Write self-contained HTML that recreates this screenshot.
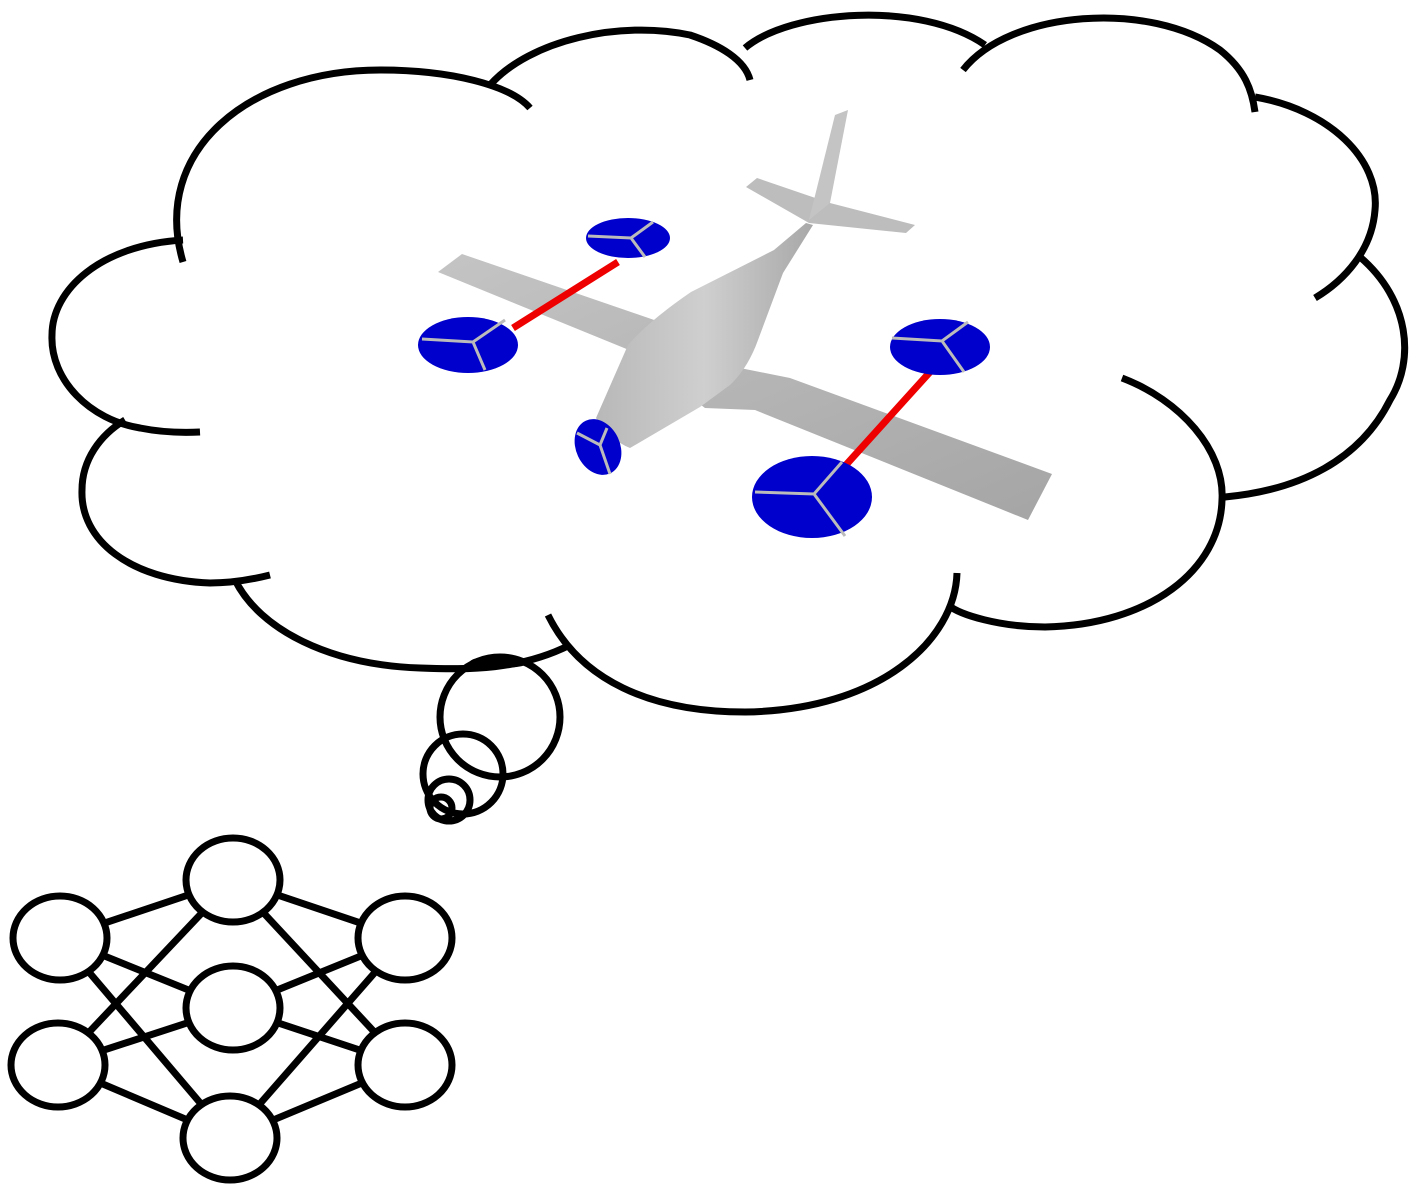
<!DOCTYPE html>
<html><head><meta charset="utf-8"><style>html,body{margin:0;padding:0;background:#fff}svg{display:block}</style></head>
<body>
<svg width="1411" height="1187" viewBox="0 0 1411 1187" xmlns="http://www.w3.org/2000/svg">
<defs>
<linearGradient id="g1" x1="0" y1="0" x2="1" y2="0"><stop offset="0" stop-color="#b8b8b8"/><stop offset="0.5" stop-color="#cfcfcf"/><stop offset="1" stop-color="#a8a8a8"/></linearGradient>
<linearGradient id="g2" x1="0" y1="0" x2="1" y2="1"><stop offset="0" stop-color="#c4c4c4"/><stop offset="1" stop-color="#a5a5a5"/></linearGradient>
</defs>
<g fill="none" stroke="#000" stroke-width="7" stroke-linecap="butt">
<path d="M183,262 C150,150 250,70 380,70 C450,70 510,85 530,108"/>
<path d="M490,85 C530,40 620,20 690,35 C720,45 745,60 750,80"/>
<path d="M745,48 C790,10 920,0 985,45"/>
<path d="M963,70 C1010,10 1150,0 1220,50 C1245,70 1252,90 1255,112"/>
<path d="M1255,97 C1330,110 1380,160 1375,210 C1372,250 1345,280 1315,298"/>
<path d="M1360,257 C1410,300 1415,360 1390,400 C1360,460 1300,490 1225,497"/>
<path d="M1122,378 C1180,400 1225,450 1222,500 C1220,570 1150,625 1045,627 C1000,627 960,615 948,605"/>
<path d="M957,573 C955,640 880,710 745,712 C650,712 580,680 548,615"/>
<path d="M570,645 C520,670 470,670 420,668 C330,665 260,630 235,580"/>
<path d="M270,575 C250,580 230,583 210,583 C130,580 80,540 82,490 C82,460 100,435 125,420"/>
<path d="M200,432 C180,433 160,432 140,428 C90,420 50,380 52,335 C52,290 100,245 183,240"/>
<circle cx="500" cy="717" r="60"/>
<circle cx="463" cy="774" r="40"/>
<circle cx="449" cy="800" r="21"/>
<circle cx="441" cy="808" r="11"/>
</g>
<ellipse cx="500" cy="662" rx="30" ry="6" fill="#000"/>
<!-- plane -->
<polygon points="438,272 462,254 660,322 740,368 790,378 1052,474 1028,520 755,410 705,408 629,350" fill="url(#g2)"/>
<polygon points="746,187 757,178 830,203 915,225 906,233 809,223" fill="#bdbdbd"/>
<path d="M596,418 L628,345 Q650,320 691,292 L774,250 L806,223 L813,225 L783,273 L758,340 Q748,368 730,385 L700,407 L630,448 Q610,440 596,418 Z" fill="url(#g1)"/>
<polygon points="835,115 848,110 830,203 809,220" fill="#c4c4c4"/>
<g stroke="#e00" stroke-width="7"><line x1="513" y1="328" x2="618" y2="262"/><line x1="930" y1="372" x2="845" y2="466"/></g>
<g fill="#0000cc">
<ellipse cx="628" cy="238" rx="42" ry="20"/>
<ellipse cx="468" cy="345" rx="50" ry="28"/>
<ellipse cx="940" cy="347" rx="50" ry="28"/>
<ellipse cx="812" cy="497" rx="60" ry="41"/>
<ellipse cx="598" cy="447" rx="22" ry="29" transform="rotate(-25 598 447)"/>
</g>
<g stroke="#bbb" stroke-width="3" fill="none">
<path d="M588,236 L631,238 L653,222 M631,238 L645,257"/>
<path d="M422,339 L473,342 L505,320 M473,342 L485,370"/>
<path d="M892,338 L942,341 L968,322 M942,341 L964,372"/>
<path d="M755,492 L814,494 L842,462 M814,494 L845,536"/>
<path d="M577,433 L600,445 L607,428 M600,445 L610,474"/>
</g>
<!-- neural net -->
<g stroke="#000" stroke-width="7">
<line x1="60" y1="938" x2="233" y2="880"/><line x1="60" y1="938" x2="233" y2="1008"/><line x1="60" y1="938" x2="230" y2="1138"/>
<line x1="58" y1="1065" x2="233" y2="880"/><line x1="58" y1="1065" x2="233" y2="1008"/><line x1="58" y1="1065" x2="230" y2="1138"/>
<line x1="405" y1="938" x2="233" y2="880"/><line x1="405" y1="938" x2="233" y2="1008"/><line x1="405" y1="938" x2="230" y2="1138"/>
<line x1="405" y1="1065" x2="233" y2="880"/><line x1="405" y1="1065" x2="233" y2="1008"/><line x1="405" y1="1065" x2="230" y2="1138"/>
</g>
<g stroke="#000" stroke-width="7" fill="#fff">
<ellipse cx="60" cy="938" rx="47" ry="42"/><ellipse cx="58" cy="1065" rx="47" ry="42"/>
<ellipse cx="233" cy="880" rx="47" ry="42"/><ellipse cx="233" cy="1008" rx="47" ry="42"/><ellipse cx="230" cy="1138" rx="47" ry="42"/>
<ellipse cx="405" cy="938" rx="47" ry="42"/><ellipse cx="405" cy="1065" rx="47" ry="42"/>
</g>
</svg>
</body></html>
